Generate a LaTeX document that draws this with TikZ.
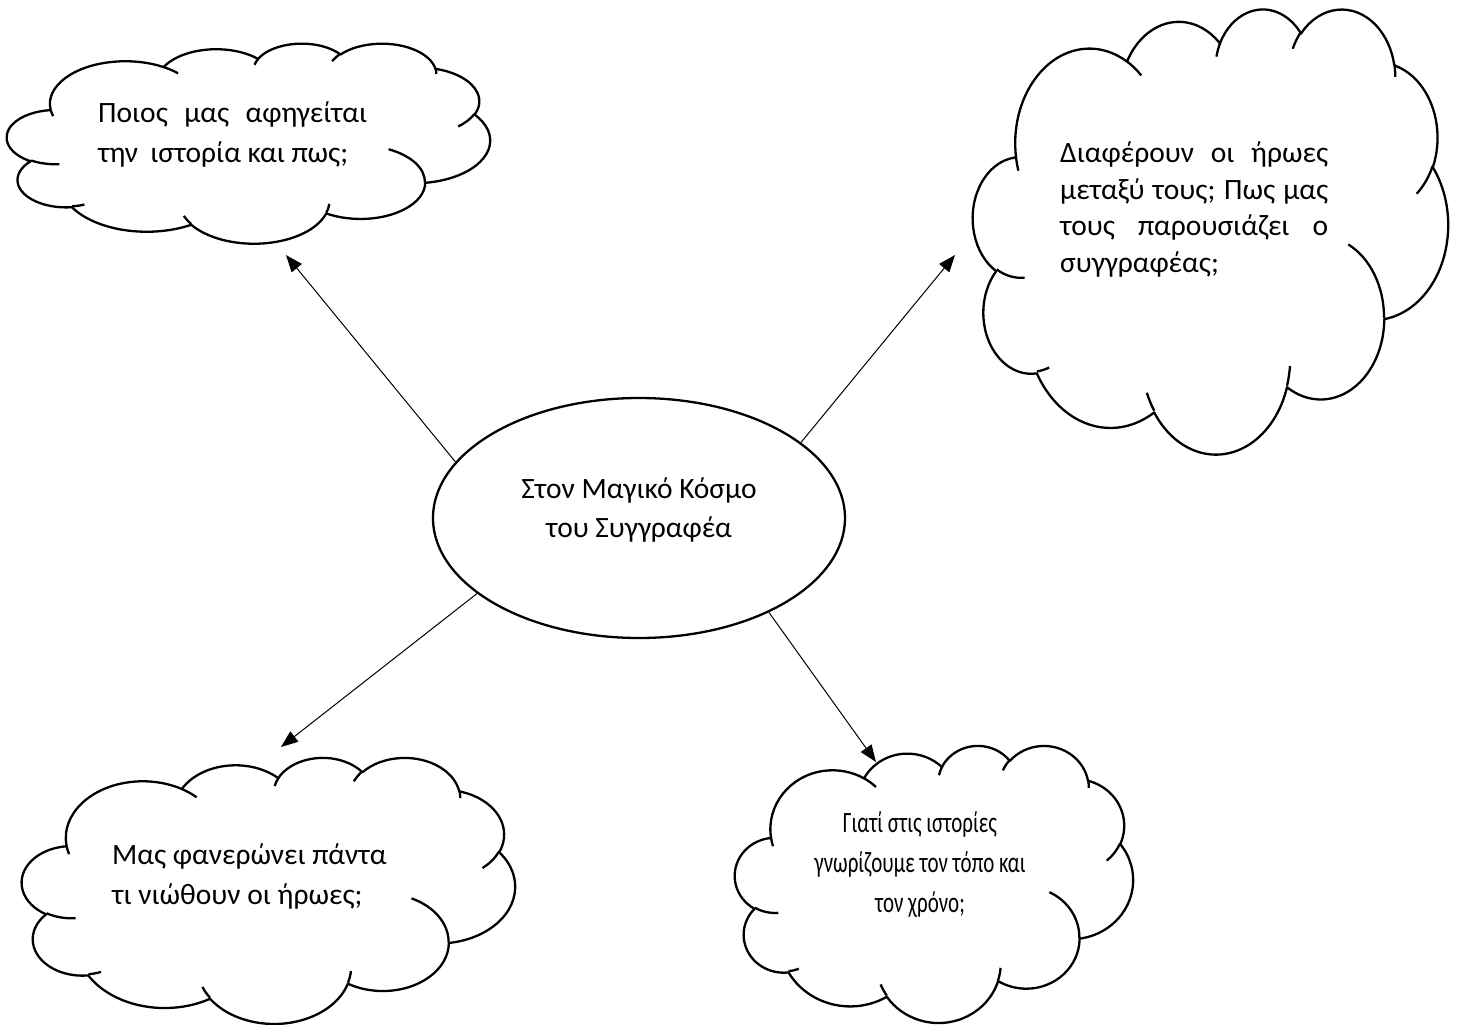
\documentclass[tikz,border=0pt]{standalone}
\usepackage{fontspec}
\setmainfont{Carlito}
\usepackage{graphicx}
\usetikzlibrary{arrows.meta,shapes.geometric}

% one arc of the cloud outline: x radius, y radius, visual start angle, sweep
\newcommand\carc[4]{arc[x radius=#1pt, y radius=#2pt,
  start angle={atan2(#1*sin(#3),#2*cos(#3))},
  delta angle={mod(atan2(#1*sin(#3+#4),#2*cos(#3+#4))-atan2(#1*sin(#3),#2*cos(#3))+720,360)}]}

% cloud in the box (x0,y0) width W height H (y grows downwards)
\newcommand\wordcloud[4]{%
 \begin{scope}[shift={(#1,#2)}, xscale=#3/43.2, yscale=#4/43.2]
  \draw[cloudline, fill=white] (3.9,14.37)
    \carc{6.753}{9.19}{-190.48748}{123.78053}
    \carc{5.333}{7.267}{-144.10238}{89.94523}
    \carc{4.365}{5.945}{-145.80792}{99.72302}
    \carc{4.857}{6.595}{-130.98607}{117.24173}
    \carc{5.333}{7.273}{-78.70888}{109.02692}
    \carc{6.775}{9.22}{-46.26725}{130.269}
    \carc{5.785}{7.867}{0.62502}{114.03333}
    \carc{6.752}{9.215}{22.4516}{115.17255}
    \carc{7.72}{10.543}{66.24263}{75.71102}
    \carc{4.36}{5.918}{-274.94208}{146.73557}
    \carc{4.345}{5.945}{-246.8285}{152.51885} -- cycle;
  \draw[cloudline]
    (4.693,26.177) \carc{4.345}{5.945}{86.742}{26.4295}
    (6.928,34.899) \carc{4.36}{5.918}{73.61047}{11.44747}
    (16.478,39.09) \carc{6.752}{9.215}{137.62415}{14.0811}
    (28.827,34.751) \carc{6.752}{9.215}{6.45327}{15.99835}
    (34.129,22.954) \carc{5.785}{7.867}{-70.29235}{70.91737}
    (41.798,15.354) \carc{5.333}{7.273}{30.31803}{27.7515}
    (38.324,5.426) \carc{4.857}{6.595}{-13.74433}{14.8589}
    (29.078,3.952) \carc{4.857}{6.595}{-149.18145}{18.19537}
    (22.141,4.72) \carc{4.365}{5.945}{-163.49427}{17.68635}
    (14,5.192) \carc{6.753}{9.19}{-66.70695}{12.31935}
    (4.127,15.789) \carc{6.753}{9.19}{157.65435}{11.85817};
 \end{scope}}

\begin{document}
\begin{tikzpicture}[x=1pt, y=1pt, yscale=-1,
  cloudline/.style={line width=2.3pt, line join=round},
  txt/.style={inner sep=0pt, font=\fontsize{29.5}{40}\selectfont},
  conn/.style={line width=1pt, -{Triangle[length=17pt,width=13pt]}}]
\useasboundingbox (0,0) rectangle (1459,1025);
\fill[white] (0,0) rectangle (1459,1025);

\wordcloud{7}{43}{483}{200}
\wordcloud{973}{8}{475}{445}
\wordcloud{22}{757}{493}{266}
\wordcloud{735}{745}{398}{277}

\node[draw, ellipse, line width=2.3pt, minimum width=412pt, minimum height=240pt,
  inner sep=0pt] (ell) at (639,518) {};
\node[txt, anchor=base, align=center, font=\fontsize{29.5}{39}\selectfont] (elltxt) at (639,537)
  {Στον Μαγικό Κόσμο\\του Συγγραφέα};

\node[txt, anchor=base west, align=left] (q1) at (98,162)
  {\makebox[269pt][s]{Ποιος μας αφηγείται}\\\makebox[250pt]{την\hfill ιστορία και πως;}};
\node[txt, anchor=base west, align=left, font=\fontsize{29.5}{36.5}\selectfont] (q2) at (1060,272)
  {\makebox[268pt][s]{Διαφέρουν οι ήρωες}\\\makebox[268pt][s]{μεταξύ τους; Πως μας}\\\makebox[268pt][s]{τους παρουσιάζει ο}\\συγγραφέας;};
\node[txt, anchor=base west, align=left] (q3) at (112,904)
  {Μας φανερώνει πάντα\\τι νιώθουν οι ήρωες;};
\node[txt, anchor=base, align=center] (q4) at (920,912)
  {\scalebox{0.71}[1]{Γιατί στις ιστορίες}\\\scalebox{0.71}[1]{γνωρίζουμε τον τόπο και}\\\scalebox{0.71}[1]{τον χρόνο;}};

\coordinate (t1) at (286,255);
\coordinate (t2) at (955,255);
\coordinate (t3) at (281,747);
\coordinate (t4) at (876,762);
\draw[conn] (ell.163) -- (t1);
\draw[conn] (ell.25) -- (t2);
\draw[conn] (ell.205) -- (t3);
\draw[conn] (ell.324) -- (t4);
\end{tikzpicture}
\end{document}
